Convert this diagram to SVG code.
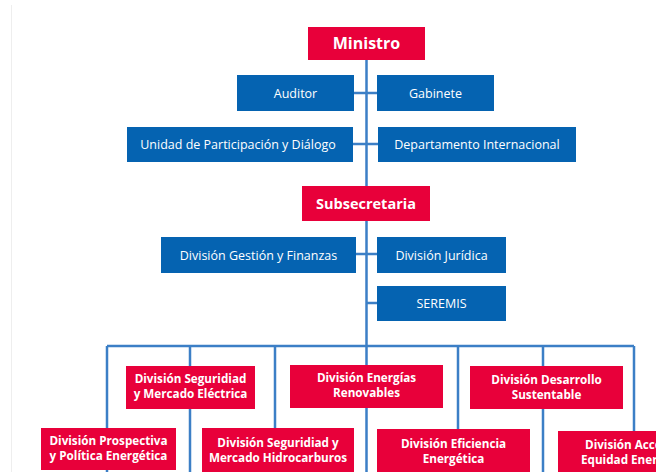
<svg xmlns="http://www.w3.org/2000/svg" width="656" height="472" viewBox="0 0 656 472">
<style>
.red{fill:#E8003A}
.blue{fill:#0563B1}
.ln{stroke:#3C7FC6;stroke-width:2.5;fill:none}
text{font-family:"Open Sans","Noto Sans",sans-serif;fill:#fff;text-anchor:middle}
.bt{font-size:12.5px}
.rt{font-size:11.7px;font-weight:bold}
.big{font-weight:bold}
</style>
<rect width="656" height="472" fill="#fff"/>
<line x1="11.5" y1="5" x2="11.5" y2="472" stroke="#eeeeee" stroke-width="1"/>
<g id="connectors">
<path class="ln" d="M366.5 60V472M354 93H377M353 144H378M356 254H377M366.5 303H377"/>
<path class="ln" d="M107 346H634M107 346V472M190 346V472M275 346V472M458 346V472M543 346V472M634 346V472"/>
</g>
<g id="ministro"><rect class="red" x="308" y="27" width="117" height="33"/><text class="big" x="366.5" y="49" font-size="16">Ministro</text></g>
<g id="auditor"><rect class="blue" x="237" y="75" width="117" height="36"/><text class="bt" x="295.5" y="97.5">Auditor</text></g>
<g id="gabinete"><rect class="blue" x="377" y="75" width="117" height="36"/><text class="bt" x="435.5" y="97.5">Gabinete</text></g>
<g id="unidad"><rect class="blue" x="127" y="127" width="226" height="35"/><text class="bt" x="238" y="149">Unidad de Participación y Diálogo</text></g>
<g id="departamento"><rect class="blue" x="378" y="127" width="198" height="35"/><text class="bt" x="477" y="149">Departamento Internacional</text></g>
<g id="subsecretaria"><rect class="red" x="302" y="186" width="128" height="35"/><text class="big" x="366" y="208.5" font-size="14.5">Subsecretaria</text></g>
<g id="gestion"><rect class="blue" x="161" y="237" width="195" height="36"/><text class="bt" x="258.5" y="259.5">División Gestión y Finanzas</text></g>
<g id="juridica"><rect class="blue" x="377" y="237" width="129" height="36"/><text class="bt" x="441.5" y="259.5">División Jurídica</text></g>
<g id="seremis"><rect class="blue" x="377" y="286" width="129" height="35"/><text class="bt" x="441.5" y="308">SEREMIS</text></g>
<g id="electrica"><rect class="red" x="126" y="366" width="129" height="43"/><text class="rt" x="190.5" y="383">División Seguridiad</text><text class="rt" x="190.5" y="397.5">y Mercado Eléctrica</text></g>
<g id="renovables"><rect class="red" x="290" y="365" width="153" height="43"/><text class="rt" x="366.5" y="382">División Energías</text><text class="rt" x="366.5" y="396.5">Renovables</text></g>
<g id="sustentable"><rect class="red" x="470" y="366" width="153" height="43"/><text class="rt" x="546.5" y="384">División Desarrollo</text><text class="rt" x="546.5" y="398.5">Sustentable</text></g>
<g id="prospectiva"><rect class="red" x="41" y="428" width="135" height="42"/><text class="rt" x="108.5" y="445">División Prospectiva</text><text class="rt" x="108.5" y="459.5">y Política Energética</text></g>
<g id="hidrocarburos"><rect class="red" x="202" y="428" width="152" height="44"/><text class="rt" x="278" y="447">División Seguridiad y</text><text class="rt" x="278" y="461.5">Mercado Hidrocarburos</text></g>
<g id="eficiencia"><rect class="red" x="377" y="429" width="153" height="43"/><text class="rt" x="453.5" y="448">División Eficiencia</text><text class="rt" x="453.5" y="462.5">Energética</text></g>
<g id="acceso"><rect class="red" x="558" y="431" width="110" height="41"/><text class="rt" x="585" y="449" style="text-anchor:start">División Acceso y</text><text class="rt" x="581" y="463.5" style="text-anchor:start">Equidad Energética</text></g>
</svg>
